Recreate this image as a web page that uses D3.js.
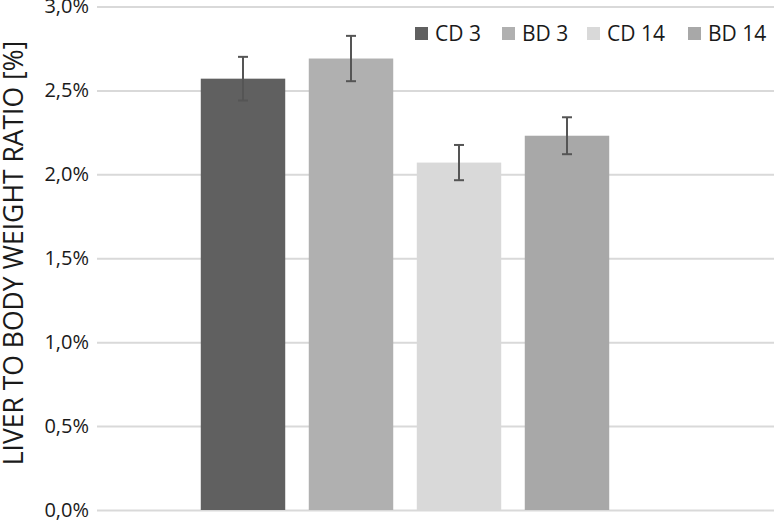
<!DOCTYPE html>
<html><head><meta charset="utf-8">
<script src="https://cdn.jsdelivr.net/npm/d3@7"></script>
<style>body{margin:0;background:#fff}svg{display:block}</style>
</head><body>
<script>
const series = ["CD 3", "BD 3", "CD 14", "BD 14"];
const values = [2.57, 2.69, 2.07, 2.23];
const errors = [0.13, 0.135, 0.105, 0.11];
const colors = ["#606060", "#b0b0b0", "#d9d9d9", "#a8a8a8"];
const yTicks = [0, 0.5, 1.0, 1.5, 2.0, 2.5, 3.0];
const yTitle = "LIVER TO BODY WEIGHT RATIO [%]";

const W = 774, H = 521;
const svg = d3.select("body").append("svg").attr("width", W).attr("height", H);
const font = "'Open Sans', sans-serif";

const y = d3.scaleLinear().domain([0, 3]).range([510, 6.5]);
const x = d3.scaleBand().domain(series).range([189, 621]).paddingInner(0.218).paddingOuter(0.109);

const yAxis = d3.axisLeft(y).tickValues(yTicks).tickSize(-(W - 97)).tickPadding(8)
  .tickFormat(d => d3.format(".1f")(d).replace(".", ",") + "%");
const gy = svg.append("g").attr("transform", "translate(97,0)").call(yAxis);
gy.select(".domain").remove();
gy.selectAll(".tick line").attr("stroke", "#d9d9d9").attr("stroke-width", 2);
gy.selectAll(".tick text").attr("font-family", font).attr("font-size", 20).attr("fill", "#1a1a1a");

svg.append("g").selectAll("rect").data(series).join("rect")
  .attr("x", d => x(d)).attr("width", x.bandwidth())
  .attr("y", (d, i) => y(values[i])).attr("height", (d, i) => y(0) - y(values[i]))
  .attr("fill", (d, i) => colors[i]);

const eb = svg.append("g").attr("stroke", "#555").attr("stroke-width", 2);
series.forEach((s, i) => {
  const cx = x(s) + x.bandwidth() / 2;
  const t = y(values[i] + errors[i]), b = y(values[i] - errors[i]);
  eb.append("line").attr("x1", cx).attr("x2", cx).attr("y1", t).attr("y2", b);
  eb.append("line").attr("x1", cx - 5).attr("x2", cx + 5).attr("y1", t).attr("y2", t);
  eb.append("line").attr("x1", cx - 5).attr("x2", cx + 5).attr("y1", b).attr("y2", b);
});

const legX = [415, 502, 587, 688];
const lg = svg.append("g");
series.forEach((s, i) => {
  lg.append("rect").attr("x", legX[i]).attr("y", 27).attr("width", 13).attr("height", 13).attr("fill", colors[i]);
  lg.append("text").attr("x", legX[i] + 20).attr("y", 41).text(s)
    .attr("font-family", font).attr("font-size", 21).attr("fill", "#1a1a1a");
});

svg.append("text").attr("transform", "translate(23,253) rotate(-90)").attr("text-anchor", "middle")
  .attr("font-family", font).attr("font-size", 26.5).attr("fill", "#1a1a1a").text(yTitle);
</script>
</body></html>
